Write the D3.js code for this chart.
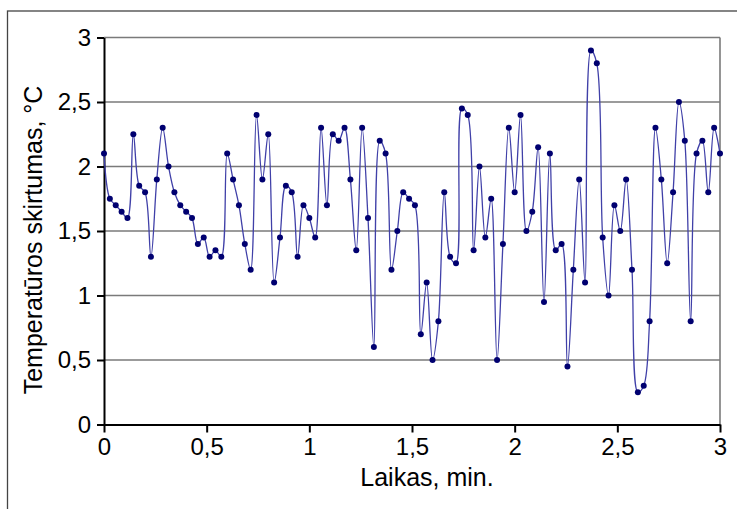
<!DOCTYPE html>
<html><head><meta charset="utf-8">
<script src="https://cdn.jsdelivr.net/npm/d3@7"></script>
<style>body{margin:0;background:#fff;} svg{display:block;} text{font-family:"Liberation Sans",Arial,sans-serif;fill:#000;}</style>
</head><body>
<svg id="c" width="737" height="509"></svg>
<script>
// Temperature difference values (°C), equally spaced over 0..3 min
const values = [2.10,1.75,1.70,1.65,1.60,2.25,1.85,1.80,1.30,1.90,
  2.30,2.00,1.80,1.70,1.65,1.60,1.40,1.45,1.30,1.35,
  1.30,2.10,1.90,1.70,1.40,1.20,2.40,1.90,2.25,1.10,
  1.45,1.85,1.80,1.30,1.70,1.60,1.45,2.30,1.70,2.25,
  2.20,2.30,1.90,1.35,2.30,1.60,0.60,2.20,2.10,1.20,
  1.50,1.80,1.75,1.70,0.70,1.10,0.50,0.80,1.80,1.30,
  1.25,2.45,2.40,1.35,2.00,1.45,1.75,0.50,1.40,2.30,
  1.80,2.40,1.50,1.65,2.15,0.95,2.10,1.35,1.40,0.45,
  1.20,1.90,1.10,2.90,2.80,1.45,1.00,1.70,1.50,1.90,
  1.20,0.25,0.30,0.80,2.30,1.90,1.25,1.80,2.50,2.20,
  0.80,2.10,2.20,1.80,2.30,2.10];
const xTicks = [0,0.5,1,1.5,2,2.5,3];
const yTicks = [0,0.5,1,1.5,2,2.5,3];
const xTitle = "Laikas, min.";
const yTitle = "Temperatūros skirtumas, °C";
const tMax = 3;

const svg = d3.select("#c");
const L=104, R=720, T=37.5, B=424.5;
const x = d3.scaleLinear().domain([0,3]).range([L,R]);
const y = d3.scaleLinear().domain([0,3]).range([B,T]);
const fmt = d => String(d).replace(".", ",");

// outer frame
svg.append("rect").attr("x",7.5).attr("y",11).attr("width",760).attr("height",520)
  .attr("fill","none").attr("stroke","#444").attr("stroke-width",1.3);

// gridlines
svg.append("g").selectAll("line").data(yTicks.filter(d=>d>0)).join("line")
  .attr("x1",L).attr("x2",R).attr("y1",d=>y(d)).attr("y2",d=>y(d))
  .attr("stroke","#7a7a7a").attr("stroke-width",1.6);
// right border
svg.append("line").attr("x1",R).attr("x2",R).attr("y1",T).attr("y2",B)
  .attr("stroke","#7a7a7a").attr("stroke-width",1.6);

// axes
const yAxis = svg.append("g").attr("transform",`translate(${L},0)`)
  .call(d3.axisLeft(y).tickValues(yTicks).tickFormat(fmt).tickSize(7).tickSizeOuter(0).tickPadding(6));
const xAxis = svg.append("g").attr("transform",`translate(0,${B})`)
  .call(d3.axisBottom(x).tickValues(xTicks).tickFormat(fmt).tickSize(8).tickSizeOuter(0).tickPadding(5));
[yAxis,xAxis].forEach(a=>{
  a.select(".domain").attr("stroke","#000").attr("stroke-width",2);
  a.selectAll(".tick line").attr("stroke","#000").attr("stroke-width",2);
  a.selectAll("text").style("font-size","24px").attr("fill","#000");
});

// line
const pts = values.map((v,i)=>[i*tMax/(values.length-1), v]);
svg.append("path").datum(pts)
  .attr("d", d3.line().x(d=>x(d[0])).y(d=>y(d[1])).curve(d3.curveCatmullRom.alpha(0.5)))
  .attr("fill","none").attr("stroke","#4040a8").attr("stroke-width",1.3);
svg.append("g").selectAll("circle").data(pts).join("circle")
  .attr("cx",d=>x(d[0])).attr("cy",d=>y(d[1])).attr("r",3).attr("fill","#000070");

// titles
svg.append("text").attr("x",427).attr("y",486).attr("text-anchor","middle")
  .style("font-size","25px").text(xTitle);
svg.append("text").attr("transform","translate(42,240) rotate(-90)").attr("text-anchor","middle")
  .style("font-size","25px").text(yTitle);
</script>
</body></html>
